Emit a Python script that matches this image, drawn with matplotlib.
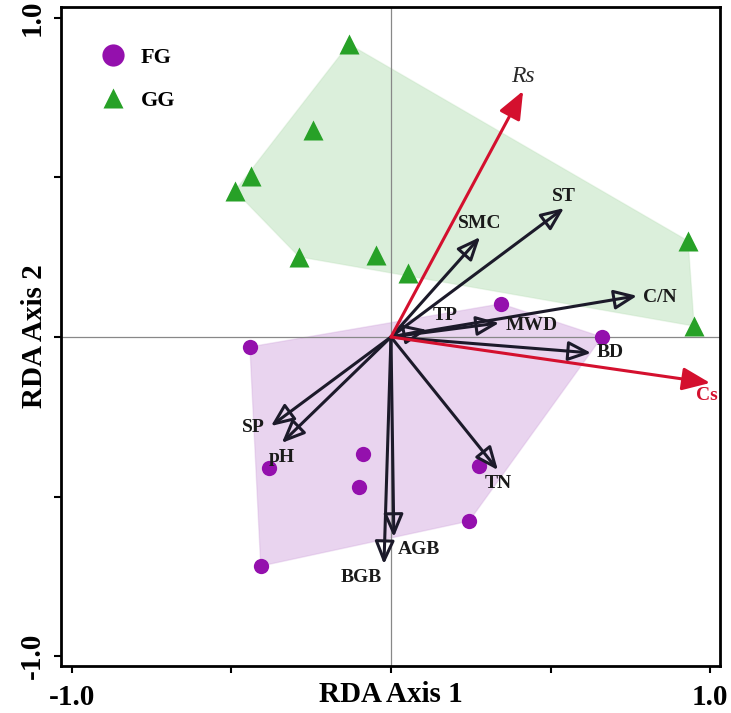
import numpy as np
import matplotlib.pyplot as plt
from matplotlib.lines import Line2D

# site scores (RDA axis 1, axis 2)
fg_x = [-0.442, 0.345, 0.661, -0.382, -0.088, -0.100, 0.276, 0.245, -0.408]
fg_y = [-0.031, 0.104, 0.000, -0.411, -0.367, -0.470, -0.404, -0.577, -0.718]
gg_x = [-0.132, -0.245, -0.439, -0.489, -0.288, -0.047, 0.053, 0.931, 0.950]
gg_y = [0.918, 0.649, 0.505, 0.458, 0.251, 0.257, 0.201, 0.301, 0.034]

# environmental vectors
env_names = ['SMC', 'ST', 'C/N', 'MWD', 'TP', 'BD', 'SP', 'pH', 'TN', 'AGB', 'BGB']
env_x = [0.279, 0.542, 0.771, 0.339, 0.113, 0.627, -0.376, -0.342, 0.335, 0.009, -0.022]
env_y = [0.313, 0.404, 0.129, 0.044, 0.022, -0.050, -0.279, -0.332, -0.417, -0.627, -0.712]

# response vectors
resp_names = ['Rs', 'Cs']
resp_x = [0.414, 1.000]
resp_y = [0.771, -0.144]

# label placement relative to arrow tip (pixels, ha)
env_lab = {'SMC': (0, 14, 'center'), 'ST': (0, 12, 'center'), 'C/N': (6, -2, 'left'),
           'MWD': (6, -3, 'left'), 'TP': (18, 14, 'center'), 'BD': (6, 0, 'left'),
           'SP': (-6, -1, 'right'), 'pH': (0, -15, 'center'), 'TN': (0, -13, 'center'),
           'AGB': (4, -12, 'left'), 'BGB': (-23, -13, 'center')}
resp_lab = {'Rs': (0, 14), 'Cs': (-3, -13)}

serif = 'Liberation Serif'
purple = '#9410ad'
green = '#27a127'
red = '#d4102e'
dark = '#1c1a2a'


def hull(xs, ys):
    pts = sorted(set(zip(xs, ys)))

    def cross(o, a, b):
        return (a[0] - o[0]) * (b[1] - o[1]) - (a[1] - o[1]) * (b[0] - o[0])

    lower, upper = [], []
    for p in pts:
        while len(lower) >= 2 and cross(lower[-2], lower[-1], p) <= 0:
            lower.pop()
        lower.append(p)
    for p in reversed(pts):
        while len(upper) >= 2 and cross(upper[-2], upper[-1], p) <= 0:
            upper.pop()
        upper.append(p)
    return np.array(lower[:-1] + upper[:-1])


fig = plt.figure(figsize=(7.31, 7.13), dpi=100)
ax = fig.add_axes([0.0834, 0.0659, 0.9016, 0.9243])

ax.add_patch(plt.Polygon(hull(gg_x, gg_y), closed=True, fc='#5cb85c', alpha=0.22,
                         ec='#a9d6a5', lw=1, zorder=1))
ax.add_patch(plt.Polygon(hull(fg_x, fg_y), closed=True, fc='#b266c8', alpha=0.28,
                         ec='#c99ad6', lw=1, zorder=1))

ax.axhline(0, color='#888888', lw=0.9, zorder=2)
ax.axvline(0, color='#888888', lw=0.9, zorder=2)

ax.plot(fg_x, fg_y, 'o', color=purple, ms=11, mec='none', zorder=3)
ax.plot(gg_x, gg_y, '^', color=green, ms=15, mec='none', zorder=3)

for name, x, y in zip(env_names, env_x, env_y):
    ax.annotate('', xy=(x, y), xytext=(0, 0), zorder=4,
                arrowprops=dict(arrowstyle='-|>,head_length=0.7,head_width=0.3',
                                mutation_scale=20, ec=dark, fc='none', lw=2.2,
                                shrinkA=0, shrinkB=0))
    dx, dy, ha = env_lab[name]
    ax.annotate(name, xy=(x, y), xytext=(dx, dy), textcoords='offset pixels',
                ha=ha, va='center', fontsize=14, fontweight='bold',
                family=serif, color='#1a1a1a', zorder=5)

for name, x, y in zip(resp_names, resp_x, resp_y):
    ax.annotate('', xy=(x, y), xytext=(0, 0), zorder=4,
                arrowprops=dict(arrowstyle='-|>,head_length=0.85,head_width=0.35',
                                mutation_scale=20, color=red, lw=2.2,
                                shrinkA=0, shrinkB=0))
    dx, dy = resp_lab[name]
    if name == 'Rs':
        kw = dict(fontsize=17, fontstyle='italic', color='#2a2a2a')
    else:
        kw = dict(fontsize=14, fontweight='bold', color=red)
    ax.annotate(name, xy=(x, y), xytext=(dx, dy), textcoords='offset pixels',
                ha='center', va='center', family=serif, zorder=5, **kw)

ax.set_xlim(-1.034, 1.031)
ax.set_ylim(-1.031, 1.034)

ticks = [-1, -0.5, 0, 0.5, 1]
tick_labels = ['-1.0', '', '', '', '1.0']
ax.set_xticks(ticks)
ax.set_xticklabels(tick_labels, fontsize=21, fontweight='bold', family=serif)
ax.set_yticks(ticks)
ax.set_yticklabels(tick_labels, fontsize=21, fontweight='bold', family=serif,
                   rotation=90, va='center')
ax.tick_params(direction='out', length=5, width=1.5, color='black')
ax.tick_params(axis='x', pad=8)
ax.tick_params(axis='y', pad=6)
for sp in ax.spines.values():
    sp.set_linewidth(2)

ax.set_xlabel('RDA Axis 1', fontsize=21, fontweight='bold', family=serif)
ax.xaxis.set_label_coords(0.5, -0.022)
ax.set_ylabel('RDA Axis 2', fontsize=21, fontweight='bold', family=serif, va='center')
ax.yaxis.set_label_coords(-0.040, 0.5)

handles = [Line2D([], [], marker='o', ls='', color=purple, ms=16, mec='none'),
           Line2D([], [], marker='^', ls='', color=green, ms=15, mec='none')]
ax.legend(handles, ['FG', 'GG'], loc='upper left', bbox_to_anchor=(0.04, 0.952),
          frameon=False, handlelength=1.5, handletextpad=0.5, borderaxespad=0,
          labelspacing=1.0, prop=dict(family=serif, weight='bold', size=16))

fig.savefig('out.png', dpi=100)
